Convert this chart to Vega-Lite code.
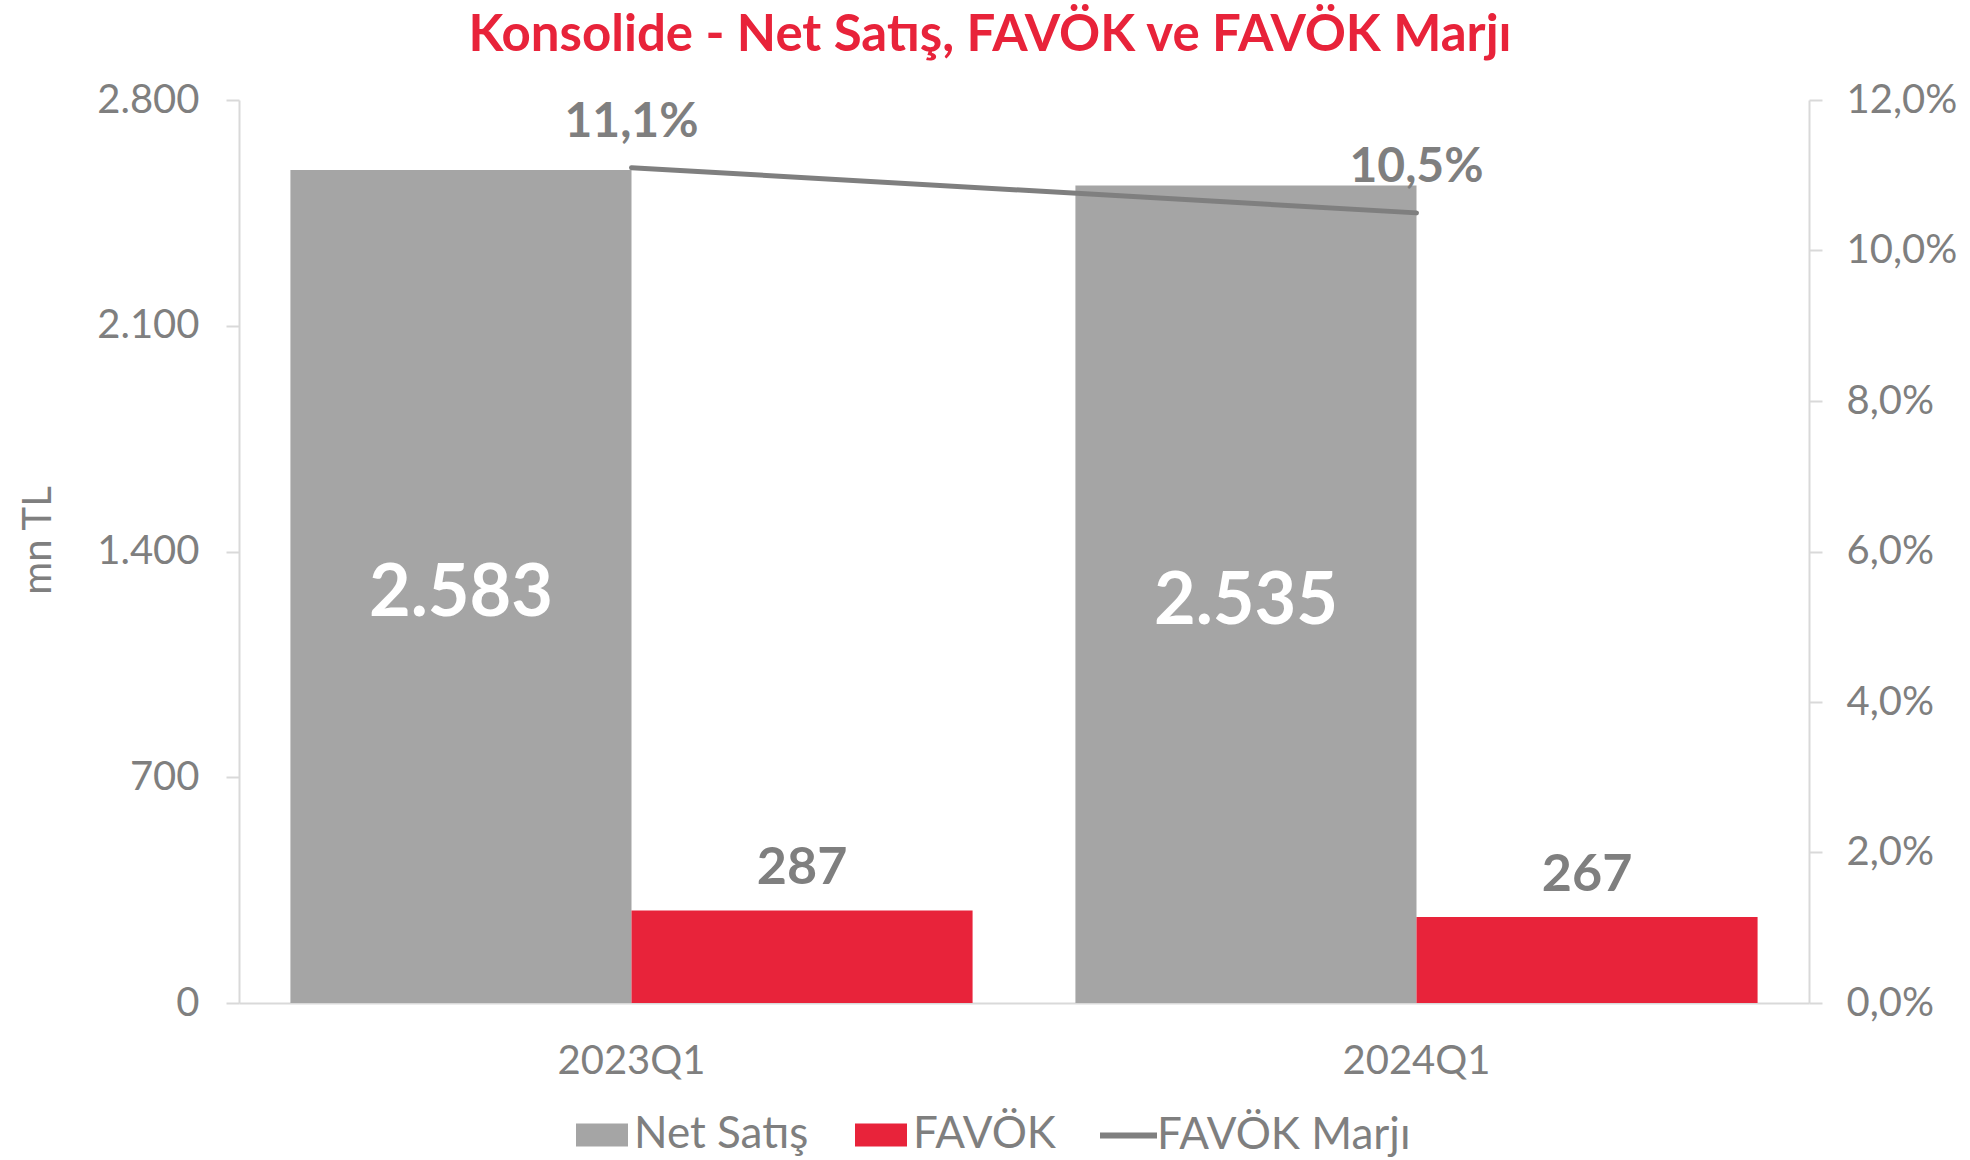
{
  "$schema": "https://vega.github.io/schema/vega-lite/v6.json",
  "autosize": {"type": "none"},
  "width": 1570,
  "height": 903,
  "padding": {"left": 239, "top": 100, "right": 161, "bottom": 157},
  "background": "white",
  "config": {
    "view": {"stroke": null},
    "font": "Lato",
    "locale": {"number": {"decimal": ",", "thousands": ".", "grouping": [3], "currency": ["", " TL"]}}
  },
  "title": {
    "text": "Konsolide - Net Satış, FAVÖK ve FAVÖK Marjı",
    "color": "#E8233A",
    "fontSize": 51,
    "fontWeight": "bold",
    "font": "Lato",
    "anchor": "middle",
    "dx": -34,
    "offset": 18
  },
  "datasets": {
    "bars": [
      {"period": "2023Q1", "series": "Net Satış", "value": 2583},
      {"period": "2023Q1", "series": "FAVÖK", "value": 287},
      {"period": "2024Q1", "series": "Net Satış", "value": 2535},
      {"period": "2024Q1", "series": "FAVÖK", "value": 267}
    ],
    "margin": [
      {"period": "2023Q1", "series": "FAVÖK Marjı", "margin": 0.111},
      {"period": "2024Q1", "series": "FAVÖK Marjı", "margin": 0.105}
    ]
  },
  "encoding": {
    "x": {
      "field": "period",
      "type": "nominal",
      "sort": ["2023Q1", "2024Q1"],
      "scale": {"paddingInner": 0.131, "paddingOuter": 0.0655},
      "axis": {
        "title": null,
        "labelAngle": 0,
        "labelFontSize": 40,
        "labelColor": "#7f7f7f",
        "labelPadding": 38,
        "ticks": false,
        "domainColor": "#d9d9d9",
        "domainWidth": 2
      }
    }
  },
  "layer": [
    {
      "data": {"name": "bars"},
      "encoding": {
        "y": {
          "field": "value",
          "type": "quantitative",
          "scale": {"domain": [0, 2800], "nice": false},
          "axis": {
            "title": "mn TL",
            "titleFontSize": 40,
            "titleFontWeight": "normal",
            "titleColor": "#7f7f7f",
            "titlePadding": 38,
            "titleY": 440,
            "values": [0, 700, 1400, 2100, 2800],
            "format": ",.0f",
            "labelFontSize": 40,
            "labelColor": "#7f7f7f",
            "labelPadding": 27,
            "tickSize": 13,
            "tickWidth": 2,
            "tickColor": "#d9d9d9",
            "domainColor": "#d9d9d9",
            "domainWidth": 2,
            "grid": false
          }
        }
      },
      "layer": [
        {
          "mark": {"type": "bar"},
          "encoding": {
            "xOffset": {"field": "series", "type": "nominal", "sort": ["Net Satış", "FAVÖK"], "scale": {"paddingInner": 0, "paddingOuter": 0}},
            "color": {
              "field": "series",
              "type": "nominal",
              "sort": ["Net Satış", "FAVÖK"],
              "scale": {"domain": ["Net Satış", "FAVÖK"], "range": ["#A5A5A5", "#E8233A"]},
              "legend": {
                "title": null,
                "orient": "none",
                "direction": "horizontal",
                "legendX": 337,
                "legendY": 1009,
                "symbolType": "M-1,-0.44L1,-0.44L1,0.44L-1,0.44Z",
                "symbolSize": 2704,
                "symbolStrokeWidth": 0,
                "labelFontSize": 44,
                "labelColor": "#7f7f7f",
                "labelOffset": 6,
                "columnPadding": 46,
                "labelLimit": 400
              }
            }
          }
        },
        {
          "transform": [{"filter": "datum.series === 'Net Satış'"}],
          "mark": {"type": "text", "fontSize": 72, "fontWeight": "bold", "color": "white", "baseline": "middle", "align": "center", "dy": 8},
          "encoding": {
            "xOffset": {"field": "series", "type": "nominal", "sort": ["Net Satış", "FAVÖK"]},
            "y": {"field": "value", "type": "quantitative", "stack": "zero", "bandPosition": 0.5},
            "text": {"field": "value", "type": "quantitative", "format": ",.0f"}
          }
        },
        {
          "transform": [{"filter": "datum.series === 'FAVÖK'"}],
          "mark": {"type": "text", "fontSize": 52, "fontWeight": "bold", "color": "#7f7f7f", "baseline": "middle", "align": "center", "dy": -42},
          "encoding": {
            "xOffset": {"field": "series", "type": "nominal", "sort": ["Net Satış", "FAVÖK"]},
            "text": {"field": "value", "type": "quantitative", "format": ",.0f"}
          }
        }
      ]
    },
    {
      "data": {"name": "margin"},
      "encoding": {
        "y": {
          "field": "margin",
          "type": "quantitative",
          "scale": {"domain": [0, 0.12], "nice": false},
          "axis": {
            "orient": "right",
            "title": null,
            "values": [0, 0.02, 0.04, 0.06, 0.08, 0.1, 0.12],
            "format": ".1%",
            "labelFontSize": 40,
            "labelColor": "#7f7f7f",
            "labelPadding": 24,
            "tickSize": 13,
            "tickWidth": 2,
            "tickColor": "#d9d9d9",
            "domainColor": "#d9d9d9",
            "domainWidth": 2,
            "grid": false
          }
        }
      },
      "layer": [
        {
          "mark": {"type": "line", "strokeWidth": 5, "strokeCap": "round"},
          "encoding": {
            "stroke": {
              "field": "series",
              "type": "nominal",
              "scale": {"domain": ["FAVÖK Marjı"], "range": ["#7f7f7f"]},
              "legend": {
                "title": null,
                "orient": "none",
                "legendX": 858,
                "legendY": 1004,
                "symbolType": "stroke",
                "symbolSize": 3249,
                "symbolStrokeWidth": 6,
                "labelFontSize": 44,
                "labelColor": "#7f7f7f",
                "labelOffset": -3,
                "labelLimit": 400
              }
            }
          }
        },
        {
          "mark": {"type": "text", "fontSize": 48, "fontWeight": "bold", "color": "#7f7f7f", "baseline": "middle", "align": "center", "dy": -45},
          "encoding": {
            "text": {"field": "margin", "type": "quantitative", "format": ".1%"}
          }
        }
      ]
    }
  ],
  "resolve": {"scale": {"y": "independent"}}
}
